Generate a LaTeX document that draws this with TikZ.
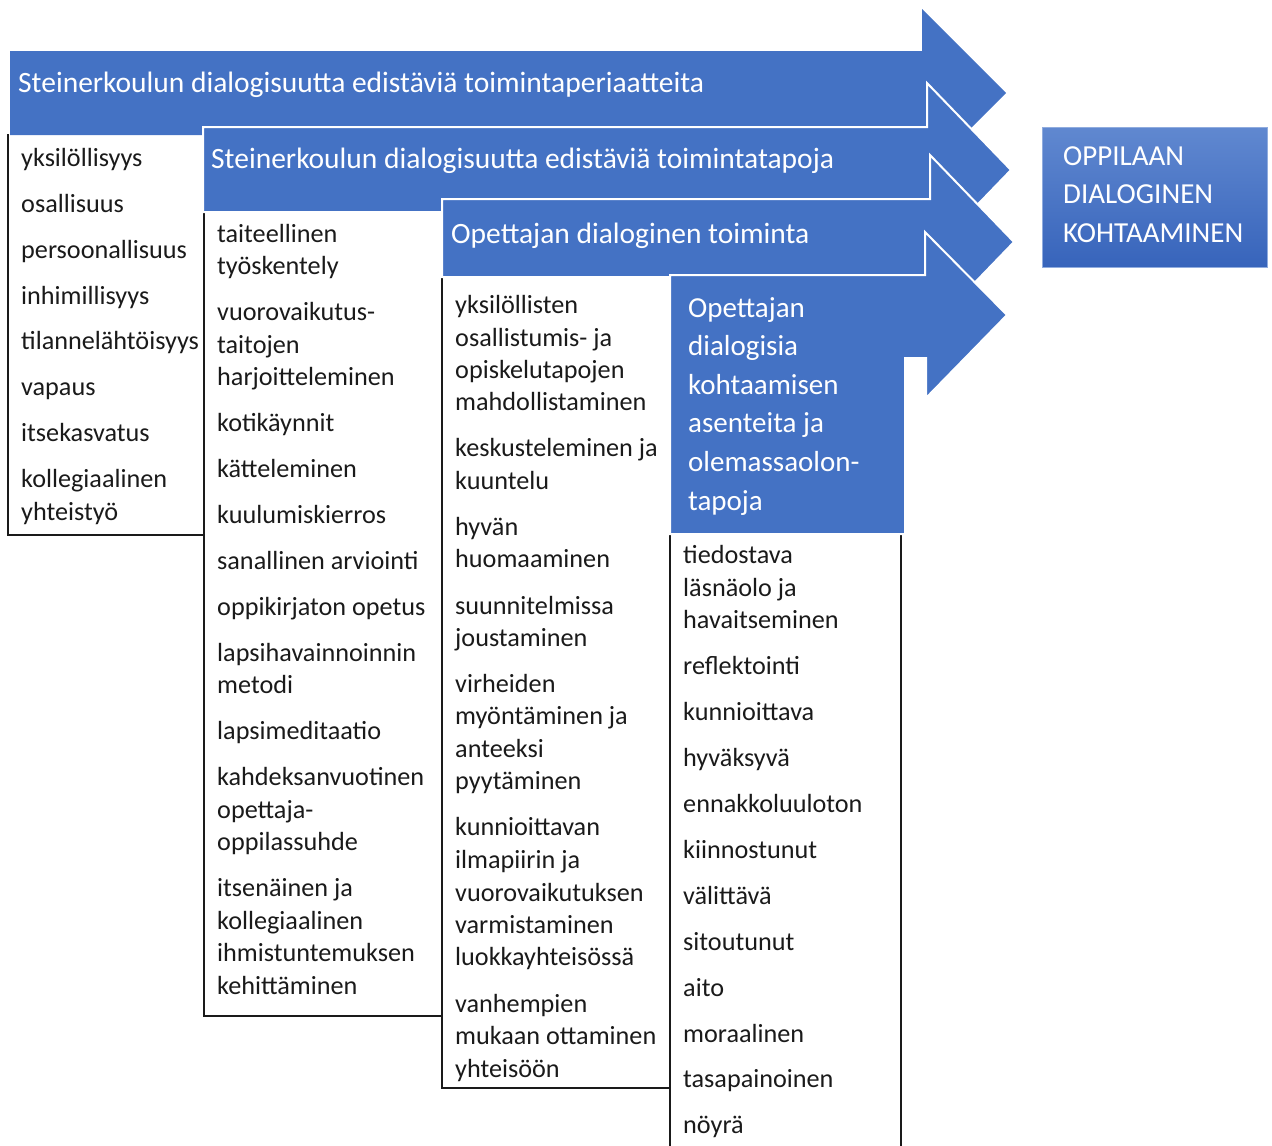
\documentclass[tikz,border=0pt]{standalone}
\usepackage{fontspec}
\setmainfont{Carlito}
\definecolor{obl}{HTML}{4472C4}
\definecolor{gtop}{HTML}{6088D0}
\definecolor{gbot}{HTML}{3764BB}
\definecolor{txt}{HTML}{1A1A1A}
\tikzset{
  arrowshape/.style={fill=obl, draw=white, line width=2pt, line join=miter},
  colbox/.style={draw=txt, line width=1.3pt},
  coltext/.style={anchor=base west, inner sep=0pt, text=txt, font=\fontsize{26.2pt}{30pt}\selectfont},
  headtext/.style={anchor=base west, inner sep=0pt, text=white, font=\fontsize{29.5pt}{32pt}\selectfont},
  bigtext/.style={anchor=base west, inner sep=0pt, text=white, font=\fontsize{29pt}{32pt}\selectfont},
}
\begin{document}
\begin{tikzpicture}[x=1pt,y=-1pt]
\useasboundingbox (0,0) rectangle (1272,1146);
% column boxes
\draw[colbox] (8,134) -- (8,535) -- (204,535) -- (204,134);
\draw[colbox] (204,211) -- (204,1016) -- (442,1016) -- (442,211);
\draw[colbox] (442,277) -- (442,1088) -- (670,1088) -- (670,277) -- cycle;
\draw[colbox] (670,534) -- (670,1150);
\draw[colbox] (901,534) -- (901,1150);
% arrows
\fill[obl] (10,51) -- (922,51) -- (922,9) -- (1006,93) -- (922,177) -- (922,135) -- (10,135) -- cycle;
\draw[arrowshape] (203,127) -- (927,127) -- (927,83) -- (1011,170) -- (927,257) -- (927,212) -- (203,212) -- cycle;
\draw[arrowshape] (442,199) -- (930,199) -- (930,155) -- (1014,242) -- (930,329) -- (930,277) -- (442,277) -- cycle;
\draw[arrowshape] (670,275) -- (925,275) -- (925,232) -- (1007,315) -- (926,398) -- (926,358) -- (905,358) -- (905,534) -- (670,534) -- cycle;
% arrow headings
\node[headtext] (h1) at (18,92) {Steinerkoulun dialogisuutta edistäviä toimintaperiaatteita};
\node[headtext] (h2) at (211,168) {Steinerkoulun dialogisuutta edistäviä toimintatapoja};
\node[headtext] (h3) at (451,243) {Opettajan dialoginen toiminta};
\foreach \yy/\lbl [count=\i] in {317/Opettajan, 355.6/dialogisia, 394.2/kohtaamisen, 432.8/asenteita ja, 471.4/olemassaolon-, 510/tapoja}
  \node[bigtext] (h4-\i) at (688,\yy) {\lbl};
% goal box
\node[draw=gtop!70!white, line width=1pt, top color=gtop, bottom color=gbot, minimum width=225pt, minimum height=140pt, inner sep=0pt, anchor=north west] (goal) at (1042,127) {};
\node[bigtext] (g1) at (1063,165) {OPPILAAN};
\node[bigtext] (g2) at (1063,203.5) {DIALOGINEN};
\node[bigtext] (g3) at (1063,242) {KOHTAAMINEN};
% column 1
\foreach \yy/\lbl [count=\i] in {166/yksilöllisyys, 212/osallisuus, 258/persoonallisuus, 304/inhimillisyys, 349/tilannelähtöisyys, 395/vapaus, 441/itsekasvatus, 487/kollegiaalinen, 520/yhteistyö}
  \node[coltext] (c1-\i) at (21,\yy) {\lbl};
% column 2
\foreach \yy/\lbl [count=\i] in {242/taiteellinen, 274/työskentely, 320/vuorovaikutus-, 353/taitojen, 385/harjoitteleminen, 431/kotikäynnit, 477/kätteleminen, 523/kuulumiskierros, 569/sanallinen arviointi, 615/oppikirjaton opetus, 661/lapsihavainnoinnin, 693/metodi, 739/lapsimeditaatio, 785/kahdeksanvuotinen, 818/opettaja-, 850/oppilassuhde, 896/itsenäinen ja, 929/kollegiaalinen, 961/ihmistuntemuksen, 994/kehittäminen}
  \node[coltext] (c2-\i) at (217,\yy) {\lbl};
% column 3
\foreach \yy/\lbl [count=\i] in {313/yksilöllisten, 346/osallistumis- ja, 378/opiskelutapojen, 410/mahdollistaminen, 456/keskusteleminen ja, 489/kuuntelu, 535/hyvän, 567/huomaaminen, 614/suunnitelmissa, 646/joustaminen, 692/virheiden, 724/myöntäminen ja, 757/anteeksi, 789/pyytäminen, 835/kunnioittavan, 868/ilmapiirin ja, 901/vuorovaikutuksen, 933/varmistaminen, 965/luokkayhteisössä, 1012/vanhempien, 1044/mukaan ottaminen, 1077/yhteisöön}
  \node[coltext] (c3-\i) at (455,\yy) {\lbl};
% column 4
\foreach \yy/\lbl [count=\i] in {563/tiedostava, 596/läsnäolo ja, 628/havaitseminen, 674/reflektointi, 720/kunnioittava, 766/hyväksyvä, 812/ennakkoluuloton, 858/kiinnostunut, 904/välittävä, 950/sitoutunut, 996/aito, 1042/moraalinen, 1087/tasapainoinen, 1133/nöyrä}
  \node[coltext] (c4-\i) at (683,\yy) {\lbl};
\end{tikzpicture}
\end{document}
